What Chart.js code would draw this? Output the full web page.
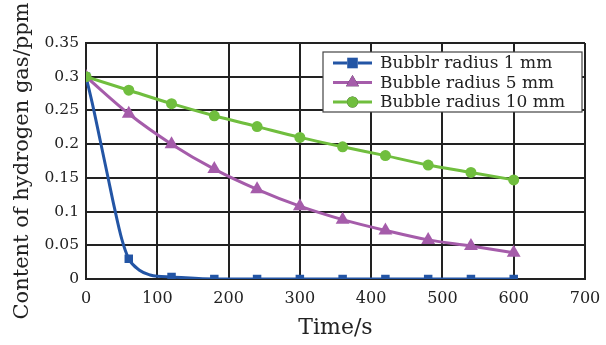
<!DOCTYPE html>
<html>
<head>
<meta charset="utf-8">
<script src="https://cdn.jsdelivr.net/npm/chart.js@4.4.0/dist/chart.umd.min.js"></script>
<style>
  html, body { margin: 0; padding: 0; background: #fff; }
  #wrap { width: 606px; height: 345px; }
</style>
</head>
<body>
<div id="wrap"><canvas id="hydrogenChart" width="606" height="345"></canvas></div>
<script>
// Data
const timeMarks = [0, 60, 120, 180, 240, 300, 360, 420, 480, 540, 600];
const radius5mm = [0.30, 0.245, 0.20, 0.163, 0.133, 0.108, 0.088, 0.072, 0.058, 0.049, 0.039];
const radius10mm = [0.30, 0.28, 0.26, 0.242, 0.226, 0.21, 0.196, 0.183, 0.169, 0.158, 0.147];
// 1 mm curve is drawn smooth, markers only every 60 s
const radius1mmTime = [0, 10, 20, 30, 40, 50, 60, 75, 90, 100, 120, 180, 240, 300, 360, 420, 480, 540, 600];
const radius1mm = [0.30, 0.255, 0.205, 0.155, 0.105, 0.06, 0.03, 0.013, 0.006, 0.004, 0.003, 0, 0, 0, 0, 0, 0, 0, 0];
const seriesLabels = ['Bubblr radius 1 mm', 'Bubble radius 5 mm', 'Bubble radius 10 mm'];
const xTicks = [0, 100, 200, 300, 400, 500, 600, 700];

const BLUE = 'rgb(35, 85, 165)';
const PURPLE = 'rgb(165, 92, 170)';
const GREEN = 'rgb(112, 190, 62)';
const INK = '#222';
const FONT = '"DejaVu Serif", serif';

function toPoints(xs, ys) {
  return xs.map((x, i) => ({ x: x, y: ys[i] }));
}

// Legend drawn inside the plot area, top right
const insideLegend = {
  id: 'insideLegend',
  afterDatasetsDraw(chart) {
    const ctx = chart.ctx;
    const area = chart.chartArea;
    const boxW = 259, boxH = 60;
    const x0 = area.right - 3 - boxW;
    const y0 = area.top + 9;
    ctx.save();
    ctx.fillStyle = '#fff';
    ctx.fillRect(x0, y0, boxW, boxH);
    ctx.strokeStyle = '#444';
    ctx.lineWidth = 1.2;
    ctx.strokeRect(x0, y0, boxW, boxH);
    ctx.font = '17px ' + FONT;
    ctx.textBaseline = 'middle';
    chart.data.datasets.forEach((ds, i) => {
      const cy = y0 + 11 + i * 19.5;
      ctx.strokeStyle = ds.borderColor;
      ctx.lineWidth = 3;
      ctx.beginPath();
      ctx.moveTo(x0 + 10, cy);
      ctx.lineTo(x0 + 49, cy);
      ctx.stroke();
      Chart.helpers.drawPoint(ctx, {
        pointStyle: ds.pointStyle,
        radius: ds.legendRadius,
        borderWidth: 0
      }, x0 + 29.5, cy);
      ctx.fillStyle = ds.borderColor;
      ctx.fill();
      ctx.fillStyle = INK;
      ctx.fillText(ds.label, x0 + 57, cy + 1);
    });
    ctx.restore();
  }
};

const ctx = document.getElementById('hydrogenChart');
new Chart(ctx, {
  type: 'scatter',
  data: {
    datasets: [
      {
        label: seriesLabels[0],
        data: toPoints(radius1mmTime, radius1mm),
        showLine: true,
        borderColor: BLUE,
        backgroundColor: BLUE,
        borderWidth: 3,
        cubicInterpolationMode: 'monotone',
        pointStyle: 'rect',
        pointRadius: radius1mmTime.map(t => (t % 60 === 0 ? 6 : 0)),
        pointBorderWidth: 0,
        legendRadius: 7.5,
        order: 3
      },
      {
        label: seriesLabels[1],
        data: toPoints(timeMarks, radius5mm),
        showLine: true,
        borderColor: PURPLE,
        backgroundColor: PURPLE,
        borderWidth: 3,
        cubicInterpolationMode: 'monotone',
        pointStyle: 'triangle',
        pointRadius: 8,
        pointBorderWidth: 0,
        legendRadius: 7.5,
        order: 2
      },
      {
        label: seriesLabels[2],
        data: toPoints(timeMarks, radius10mm),
        showLine: true,
        borderColor: GREEN,
        backgroundColor: GREEN,
        borderWidth: 3,
        cubicInterpolationMode: 'monotone',
        pointStyle: 'circle',
        pointRadius: 5.5,
        pointBorderWidth: 0,
        legendRadius: 5.5,
        order: 1
      }
    ]
  },
  options: {
    responsive: false,
    animation: false,
    layout: { padding: { top: 43, right: 21, left: 0, bottom: 0 } },
    plugins: {
      legend: { display: false },
      tooltip: { enabled: false }
    },
    scales: {
      x: {
        type: 'linear',
        min: 0,
        max: 700,
        afterBuildTicks(scale) {
          scale.ticks = xTicks.map(v => ({ value: v }));
        },
        afterFit(scale) {
          scale.height = 66;
          // keep the plot frame where the reference has it
          scale.paddingLeft = 0;
          scale.paddingRight = 0;
        },
        title: {
          display: true,
          text: 'Time/s',
          color: INK,
          font: { family: FONT, size: 22 },
          padding: { top: 0, bottom: 4 }
        },
        ticks: {
          color: INK,
          font: { family: FONT, size: 16 },
          padding: 10,
          maxRotation: 0
        },
        grid: { color: INK, lineWidth: 2, drawTicks: false },
        border: { color: INK, width: 2 }
      },
      y: {
        min: 0,
        max: 0.35,
        ticks: {
          stepSize: 0.05,
          color: INK,
          font: { family: FONT, size: 15.5 },
          padding: 7,
          callback: value => String(+value.toFixed(2))
        },
        afterFit(scale) {
          scale.width = 86;
          scale.paddingTop = 0;
          scale.paddingBottom = 0;
        },
        title: {
          display: true,
          text: 'Content of hydrogen gas/ppm',
          color: INK,
          font: { family: FONT, size: 21 },
          padding: { top: 10, bottom: 0 }
        },
        grid: { color: INK, lineWidth: 2, drawTicks: false },
        border: { color: INK, width: 2 }
      }
    }
  },
  plugins: [insideLegend]
});
</script>
</body>
</html>
